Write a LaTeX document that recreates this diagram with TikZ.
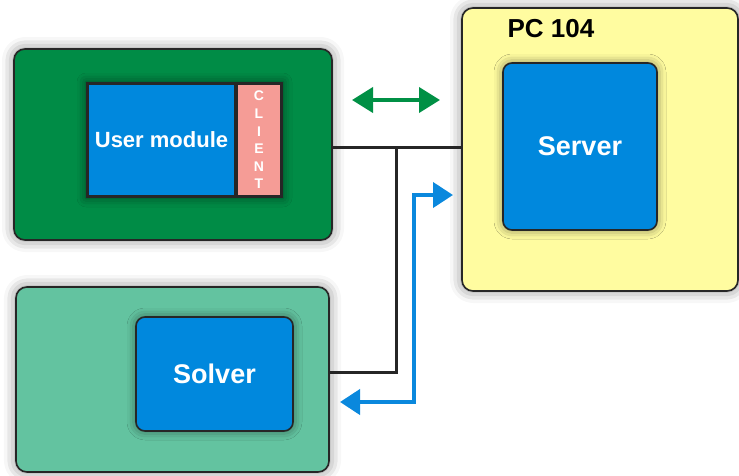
\documentclass[tikz,border=0pt]{standalone}
\usepackage{fontspec}
\setmainfont{Liberation Sans}
\usepackage{tikz}
\usetikzlibrary{shapes,arrows,positioning,arrows.meta,backgrounds,fit,shadows.blur}
\definecolor{darkgreen}{RGB}{0,140,70}
\definecolor{seagreen}{RGB}{99,195,160}
\definecolor{paleyellow}{RGB}{255,252,160}
\definecolor{modblue}{RGB}{0,136,221}
\definecolor{clientpink}{RGB}{245,156,150}
\definecolor{arrowgreen}{RGB}{0,144,69}
\definecolor{arrowblue}{RGB}{10,136,221}
\tikzstyle{outer} = [rectangle, draw=black!85, line width=1.6pt, rounded corners=11pt,
    inner sep=0pt, blur shadow={shadow xshift=0pt, shadow yshift=0pt, shadow blur radius=12pt, shadow opacity=50}]
\tikzstyle{module} = [rectangle, draw=black!85, line width=1.6pt, fill=modblue, rounded corners=9pt,
    inner sep=0pt, text=white, font=\bfseries\fontsize{27}{30}\selectfont,
    blur shadow={shadow xshift=0pt, shadow yshift=0pt, shadow blur radius=9pt, shadow opacity=50}]
\tikzstyle{link} = [line width=3pt, draw=black!85]
\tikzstyle{greenarrow} = [line width=4pt, draw=arrowgreen, {Triangle[length=21pt,width=25pt]}-{Triangle[length=21pt,width=25pt]}]
\tikzstyle{bluearrow} = [line width=4pt, draw=arrowblue, {Triangle[length=20pt,width=25pt]}-{Triangle[length=20pt,width=25pt]}]

\begin{document}
\begin{tikzpicture}[x=1pt, y=-1pt]
        \useasboundingbox (0,0) rectangle (739,475);

        \node[outer, fill=darkgreen, minimum width=318pt, minimum height=191pt] (userbox) at (173,144.5) {};
        \node[outer, fill=seagreen, minimum width=313pt, minimum height=185pt] (solverbox) at (172.5,379.5) {};
        \node[outer, fill=paleyellow, minimum width=276pt, minimum height=283pt] (pcbox) at (600,149.5) {};
        \node[font=\bfseries\fontsize{26}{28}\selectfont, anchor=west] (pclabel) at (504,29) {PC 104};

        \node[rectangle, fill=black!85, minimum width=197pt, minimum height=116pt, inner sep=0pt,
            blur shadow={shadow xshift=0pt, shadow yshift=0pt, shadow blur radius=9pt, shadow opacity=50}] (usrframe) at (184.5,140) {};
        \node[rectangle, fill=modblue, minimum width=145pt, minimum height=110pt, inner sep=0pt, text=white,
            font=\bfseries\fontsize{22}{24}\selectfont] (usermod) at (161.5,140) {User module};
        \node[rectangle, fill=clientpink, minimum width=42pt, minimum height=110pt, inner sep=0pt, text=white,
            font=\bfseries\fontsize{14}{17.6}\selectfont, align=center] (client) at (259,140) {
            C\\L\\I\\E\\N\\T
        };

        \node[module, minimum width=154pt, minimum height=167pt] (server) at (580,146.5) {Server};
        \node[module, minimum width=157pt, minimum height=114pt] (solver) at (214.5,374) {Solver};

        \coordinate (bus) at (396,147);
        \coordinate (busend) at (396,372);
        \draw[link] (userbox.east |- bus) -- (pcbox.west |- bus);
        \draw[link] (bus) -- (busend) -- (solverbox.east |- busend);

        \coordinate (gleft) at (352,100);
        \coordinate (gright) at (440,100);
        \draw[greenarrow] (gleft) -- (gright);

        \coordinate (bleft) at (340,402);
        \coordinate (bright) at (453,195);
        \draw[bluearrow] (bleft) -- (414,402) -- (414,195) -- (bright);
    \end{tikzpicture}
\end{document}
